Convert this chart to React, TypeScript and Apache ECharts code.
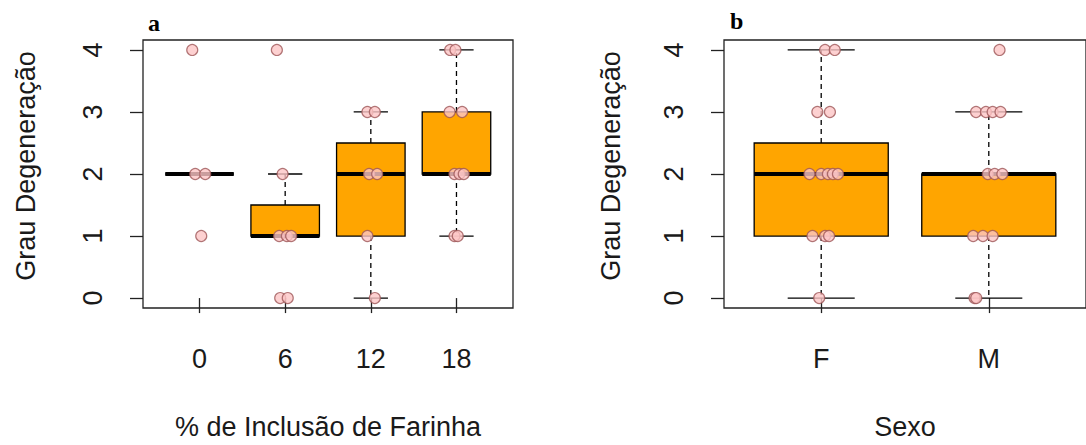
import React, { useEffect, useRef } from 'react';
import * as echarts from 'echarts';

const categoriesA = ['0', '6', '12', '18'];
const categoriesB = ['F', 'M'];
const titleA = '% de Inclusão de Farinha';
const titleB = 'Sexo';
const yTitle = 'Grau Degeneração';
const yTicks = [0, 1, 2, 3, 4];
// [min, Q1, median, Q3, max]
const boxA = [
  [2, 2, 2, 2, 2],
  [1, 1, 1, 1.5, 2],
  [0, 1, 2, 2.5, 3],
  [1, 2, 2, 3, 4],
];
const boxB = [
  [0, 1, 2, 2.5, 4],
  [0, 1, 2, 2, 3],
];
// [group index, horizontal jitter, value]
const pointsA = [
  [0, -0.085, 4], [0, -0.05, 2], [0, 0.067, 2], [0, 0.02, 1],
  [1, -0.097, 4], [1, -0.03, 2], [1, -0.07, 1], [1, 0.02, 1], [1, 0.07, 1], [1, -0.058, 0], [1, 0.03, 0],
  [2, -0.04, 3], [2, 0.047, 3], [2, -0.02, 2], [2, 0.074, 2], [2, -0.04, 1], [2, 0.047, 0],
  [3, -0.074, 4], [3, -0.012, 4], [3, -0.08, 3], [3, 0.066, 3], [3, -0.023, 2], [3, 0.035, 2], [3, 0.085, 2], [3, -0.023, 1], [3, 0.015, 1],
];
const pointsB = [
  [0, 0.023, 4], [0, 0.081, 4], [0, -0.023, 3], [0, 0.052, 3], [0, -0.07, 2], [0, 0, 2], [0, 0.04, 2], [0, 0.07, 2], [0, 0.1, 2],
  [0, -0.052, 1], [0, 0.023, 1], [0, 0.047, 1], [0, -0.012, 0],
  [1, 0.064, 4], [1, -0.076, 3], [1, -0.017, 3], [1, 0.023, 3], [1, 0.07, 3], [1, -0.006, 2], [1, 0.035, 2], [1, 0.081, 2],
  [1, -0.093, 1], [1, -0.035, 1], [1, 0.023, 1], [1, -0.085, 0], [1, -0.075, 0],
];

const TEXT = '#1a1a1a';
const FONT = '"Liberation Sans", Arial, sans-serif';

function renderBox(params: any, api: any) {
  const x = api.value(0);
  const mn = api.value(1), q1 = api.value(2), md = api.value(3), q3 = api.value(4), mx = api.value(5);
  const p = (v: number) => api.coord([x, v]);
  const cx = p(md)[0];
  const yMin = p(mn)[1], yQ1 = p(q1)[1], yMd = p(md)[1], yQ3 = p(q3)[1], yMax = p(mx)[1];
  const hw = api.size([0.8, 0])[0] / 2;
  const cw = api.size([0.4, 0])[0] / 2;
  const thin = { stroke: '#000', lineWidth: 1.3 };
  const dash = { stroke: '#000', lineWidth: 1.3, lineDash: [5, 4] };
  return {
    type: 'group',
    children: [
      { type: 'line', shape: { x1: cx, y1: yQ3, x2: cx, y2: yMax }, style: dash },
      { type: 'line', shape: { x1: cx, y1: yQ1, x2: cx, y2: yMin }, style: dash },
      { type: 'line', shape: { x1: cx - cw, y1: yMax, x2: cx + cw, y2: yMax }, style: thin },
      { type: 'line', shape: { x1: cx - cw, y1: yMin, x2: cx + cw, y2: yMin }, style: thin },
      { type: 'rect', shape: { x: cx - hw, y: yQ3, width: 2 * hw, height: yQ1 - yQ3 }, style: { fill: '#FFA500', stroke: '#000', lineWidth: 1.3 } },
      { type: 'line', shape: { x1: cx - hw, y1: yMd, x2: cx + hw, y2: yMd }, style: { stroke: '#000', lineWidth: 4 } },
    ],
  };
}

function xAxisDef(gridIndex: number, n: number, cats: string[], name: string) {
  const ext = 0.04 * n;
  const ticks = cats.map((_, i) => i + 1);
  return {
    type: 'value',
    gridIndex,
    min: 0.5 - ext,
    max: n + 0.5 + ext,
    axisLine: { show: false },
    splitLine: { show: false },
    axisTick: { show: true, customValues: ticks, length: 15, lineStyle: { color: '#222', width: 1.3 } },
    axisLabel: {
      customValues: ticks,
      formatter: (v: number) => cats[Math.round(v) - 1] ?? '',
      margin: 37,
      fontSize: 27,
      fontFamily: FONT,
      color: TEXT,
    },
    name,
    nameLocation: 'middle',
    nameGap: 105,
    nameTextStyle: { fontSize: 27, fontFamily: FONT, color: TEXT },
  };
}

function yAxisDef(gridIndex: number, gap: number) {
  return {
    type: 'value',
    gridIndex,
    min: -0.16,
    max: 4.16,
    axisLine: { show: false },
    splitLine: { show: false },
    axisTick: { show: true, customValues: yTicks, length: 13, lineStyle: { color: '#222', width: 1.3 } },
    axisLabel: {
      customValues: yTicks,
      rotate: 90,
      margin: 37,
      fontSize: 27,
      fontFamily: FONT,
      color: TEXT,
    },
    name: yTitle,
    nameLocation: 'middle',
    nameGap: gap,
    nameTextStyle: { fontSize: 27, fontFamily: FONT, color: TEXT, padding: [0, 0, 0, 16] },
  };
}

export default function App() {
  const ref = useRef<HTMLDivElement>(null);
  useEffect(() => {
    if (!ref.current) return;
    const chart = echarts.init(ref.current, null, { renderer: 'svg' });
    const pointStyle = { color: '#FCC6C6', borderColor: '#9E5658', borderWidth: 1.2 };
    chart.setOption({
      animation: false,
      backgroundColor: '#ffffff',
      grid: [
        { left: 143, top: 40, width: 370, height: 269, show: true, borderColor: '#222', borderWidth: 1.3, backgroundColor: 'transparent' },
        { left: 724, top: 40, width: 372, height: 269, show: true, borderColor: '#222', borderWidth: 1.3, backgroundColor: 'transparent' },
      ],
      xAxis: [
        xAxisDef(0, categoriesA.length, categoriesA, titleA),
        xAxisDef(1, categoriesB.length, categoriesB, titleB),
      ],
      yAxis: [yAxisDef(0, 104), yAxisDef(1, 100)],
      graphic: [
        { type: 'text', left: 148, top: 11, style: { text: 'a', font: 'bold 24px "Liberation Serif", serif', fill: '#000' } },
        { type: 'text', left: 730, top: 9, style: { text: 'b', font: 'bold 24px "Liberation Serif", serif', fill: '#000' } },
      ],
      series: [
        {
          type: 'custom',
          xAxisIndex: 0,
          yAxisIndex: 0,
          renderItem: renderBox,
          encode: { x: 0, y: [1, 2, 3, 4, 5] },
          data: boxA.map((b, i) => [i + 1, ...b]),
        },
        {
          type: 'custom',
          xAxisIndex: 1,
          yAxisIndex: 1,
          renderItem: renderBox,
          encode: { x: 0, y: [1, 2, 3, 4, 5] },
          data: boxB.map((b, i) => [i + 1, ...b]),
        },
        {
          type: 'scatter',
          xAxisIndex: 0,
          yAxisIndex: 0,
          symbol: 'circle',
          symbolSize: 11,
          itemStyle: pointStyle,
          data: pointsA.map(([g, j, v]) => [g + 1 + j, v]),
          z: 5,
        },
        {
          type: 'scatter',
          xAxisIndex: 1,
          yAxisIndex: 1,
          symbol: 'circle',
          symbolSize: 11,
          itemStyle: pointStyle,
          data: pointsB.map(([g, j, v]) => [g + 1 + j, v]),
          z: 5,
        },
      ],
    });
    return () => chart.dispose();
  }, []);
  return <div ref={ref} style={{ position: 'absolute', left: 0, top: 0, width: 1086, height: 445 }} />;
}
